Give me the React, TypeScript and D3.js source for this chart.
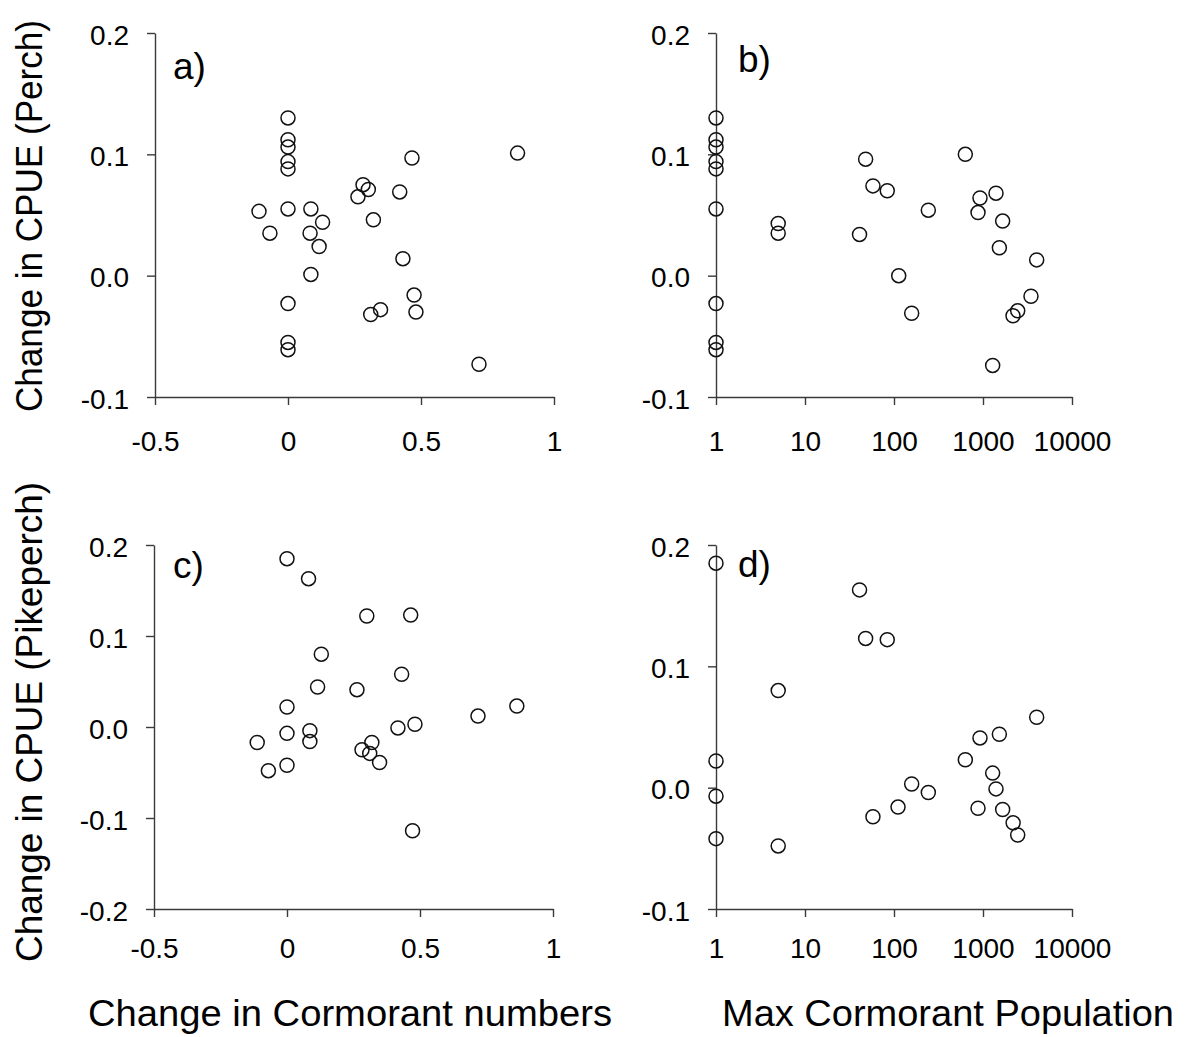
import React, { useEffect, useRef } from "react";
import * as d3 from "d3";

// Panel a) change in cormorant numbers vs change in perch CPUE
const changeA = [0, 0, 0, 0, 0, 0, -0.109, -0.068, 0.086, 0.13, 0.083, 0.117, 0.086, 0, 0, 0, 0.282, 0.302, 0.263, 0.321, 0.466, 0.42, 0.432, 0.474, 0.481, 0.311, 0.348, 0.863, 0.718];
const perchA = [0.13, 0.112, 0.106, 0.094, 0.088, 0.055, 0.053, 0.035, 0.055, 0.044, 0.035, 0.024, 0.001, -0.023, -0.055, -0.061, 0.075, 0.071, 0.065, 0.046, 0.097, 0.069, 0.014, -0.016, -0.03, -0.032, -0.028, 0.101, -0.073];

// Panel b) max cormorant population vs change in perch CPUE
const maxPopB = [1, 1, 1, 1, 1, 1, 1, 1, 1, 5, 5, 41, 48, 58, 84, 243, 113, 158, 633, 925, 879, 1400, 1663, 1527, 4010, 3460, 2454, 2173, 1284];
const perchB = [0.13, 0.112, 0.106, 0.094, 0.088, 0.055, -0.023, -0.055, -0.061, 0.043, 0.035, 0.034, 0.096, 0.074, 0.07, 0.054, 0.0, -0.031, 0.1, 0.064, 0.052, 0.068, 0.045, 0.023, 0.013, -0.017, -0.029, -0.033, -0.074];

// Panel c) change in cormorant numbers vs change in pikeperch CPUE
const changeC = [0, 0.081, 0.3, 0.465, 0.129, 0.431, 0.115, 0.263, 0, 0.864, 0.718, 0, 0.086, 0.086, -0.112, -0.07, 0, 0.417, 0.481, 0.319, 0.282, 0.311, 0.348, 0.472];
const pikeC = [0.185, 0.163, 0.122, 0.123, 0.08, 0.058, 0.044, 0.041, 0.022, 0.023, 0.012, -0.007, -0.004, -0.016, -0.017, -0.048, -0.042, -0.001, 0.003, -0.017, -0.025, -0.029, -0.039, -0.114];

// Panel d) max cormorant population vs change in pikeperch CPUE
const maxPopD = [1, 1, 1, 1, 5, 5, 41, 48, 84, 58, 111, 158, 243, 633, 925, 879, 1527, 1284, 1400, 1663, 2180, 2454, 4010];
const pikeD = [0.185, 0.022, -0.007, -0.042, 0.08, -0.048, 0.163, 0.123, 0.122, -0.024, -0.016, 0.003, -0.004, 0.023, 0.041, -0.017, 0.044, 0.012, -0.001, -0.018, -0.029, -0.039, 0.058];

// tick values and labels
const changeTicks = [-0.5, 0, 0.5, 1];
const changeLabels = ["-0.5", "0", "0.5", "1"];
const popTicks = [1, 10, 100, 1000, 10000];
const popLabels = ["1", "10", "100", "1000", "10000"];
const cpueTicks3 = [-0.1, 0, 0.1, 0.2];
const cpueLabels3 = ["-0.1", "0.0", "0.1", "0.2"];
const cpueTicks4 = [-0.2, -0.1, 0, 0.1, 0.2];
const cpueLabels4 = ["-0.2", "-0.1", "0.0", "0.1", "0.2"];

const FONT = "'Liberation Sans', Arial, Helvetica, sans-serif";
const AXIS = "#3a3a3a";

function drawPanel(svg, opts) {
  const { xs, ys, left, right, top, bottom, log, xDomain, yDomain, xTicks, xLabels, yTicks, yLabels, xPad, tag, tagX, tagY } = opts;

  var x = log
    ? d3.scaleLog().domain(xDomain).range([left, right])
    : d3.scaleLinear().domain(xDomain).range([left, right]);
  var y = d3.scaleLinear().domain(yDomain).range([bottom, top]);

  var g = svg.append("g");

  // x axis
  var xa = g
    .append("g")
    .attr("transform", `translate(0, ${bottom})`)
    .call(
      d3.axisBottom(x)
        .tickValues(xTicks)
        .tickFormat((d, i) => xLabels[i])
        .tickSize(8)
        .tickSizeOuter(0)
        .tickPadding(xPad)
    );

  // y axis
  var ya = g
    .append("g")
    .attr("transform", `translate(${left}, 0)`)
    .call(
      d3.axisLeft(y)
        .tickValues(yTicks)
        .tickFormat((d, i) => yLabels[i])
        .tickSize(8)
        .tickSizeOuter(0)
        .tickPadding(18)
    );

  [xa, ya].forEach((a) => {
    a.select(".domain").attr("stroke", AXIS).attr("stroke-width", 1.4);
    a.selectAll(".tick line").attr("stroke", AXIS).attr("stroke-width", 1.4);
    a.selectAll(".tick text")
      .attr("fill", "#000")
      .style("font-family", FONT)
      .style("font-size", "28px");
  });
  ya.selectAll(".tick text").attr("dy", "0.4em");

  // points
  g.append("g")
    .selectAll("circle")
    .data(xs.map((v, i) => [v, ys[i]]))
    .join("circle")
    .attr("cx", (d) => x(d[0]))
    .attr("cy", (d) => y(d[1]))
    .attr("r", 7)
    .attr("fill", "none")
    .attr("stroke", "#111")
    .attr("stroke-width", 1.5);

  // panel tag
  g.append("text")
    .attr("x", tagX)
    .attr("y", tagY)
    .style("font-family", FONT)
    .style("font-size", "37px")
    .text(tag);
}

export default function App() {
  const ref = useRef(null);

  useEffect(() => {
    var svg = d3.select(ref.current);
    svg.selectAll("*").remove();

    drawPanel(svg, {
      xs: changeA, ys: perchA, left: 155, right: 554, top: 33, bottom: 397,
      log: false, xDomain: [-0.5, 1], yDomain: [-0.1, 0.2], xPad: 26,
      xTicks: changeTicks, xLabels: changeLabels, yTicks: cpueTicks3, yLabels: cpueLabels3,
      tag: "a)", tagX: 173, tagY: 79,
    });
    drawPanel(svg, {
      xs: maxPopB, ys: perchB, left: 716, right: 1072, top: 33, bottom: 397,
      log: true, xDomain: [1, 10000], yDomain: [-0.1, 0.2], xPad: 26,
      xTicks: popTicks, xLabels: popLabels, yTicks: cpueTicks3, yLabels: cpueLabels3,
      tag: "b)", tagX: 738, tagY: 72,
    });
    drawPanel(svg, {
      xs: changeC, ys: pikeC, left: 154, right: 553, top: 545, bottom: 909,
      log: false, xDomain: [-0.5, 1], yDomain: [-0.2, 0.2], xPad: 21,
      xTicks: changeTicks, xLabels: changeLabels, yTicks: cpueTicks4, yLabels: cpueLabels4,
      tag: "c)", tagX: 173, tagY: 578,
    });
    drawPanel(svg, {
      xs: maxPopD, ys: pikeD, left: 716, right: 1072, top: 545, bottom: 909,
      log: true, xDomain: [1, 10000], yDomain: [-0.1, 0.2], xPad: 21,
      xTicks: popTicks, xLabels: popLabels, yTicks: cpueTicks3, yLabels: cpueLabels3,
      tag: "d)", tagX: 738, tagY: 577,
    });

    // Axis titles
    var titles = [
      { t: "Change in CPUE (Perch)", x: 42, y: 216, rot: true, len: 392 },
      { t: "Change in CPUE (Pikeperch)", x: 42, y: 722, rot: true, len: 480 },
      { t: "Change in Cormorant numbers", x: 350, y: 1026, rot: false, len: 524 },
      { t: "Max Cormorant Population", x: 948, y: 1026, rot: false, len: 452 },
    ];
    titles.forEach((d) => {
      svg
        .append("text")
        .attr("text-anchor", "middle")
        .attr("transform", d.rot ? `translate(${d.x}, ${d.y}) rotate(-90)` : `translate(${d.x}, ${d.y})`)
        .attr("textLength", d.len)
        .attr("lengthAdjust", "spacingAndGlyphs")
        .style("font-family", FONT)
        .style("font-size", "36px")
        .text(d.t);
    });
  }, []);

  return (
    <svg
      ref={ref}
      width={1188}
      height={1037}
      style={{ position: "absolute", left: 0, top: 0, background: "#fff" }}
    ></svg>
  );
}
